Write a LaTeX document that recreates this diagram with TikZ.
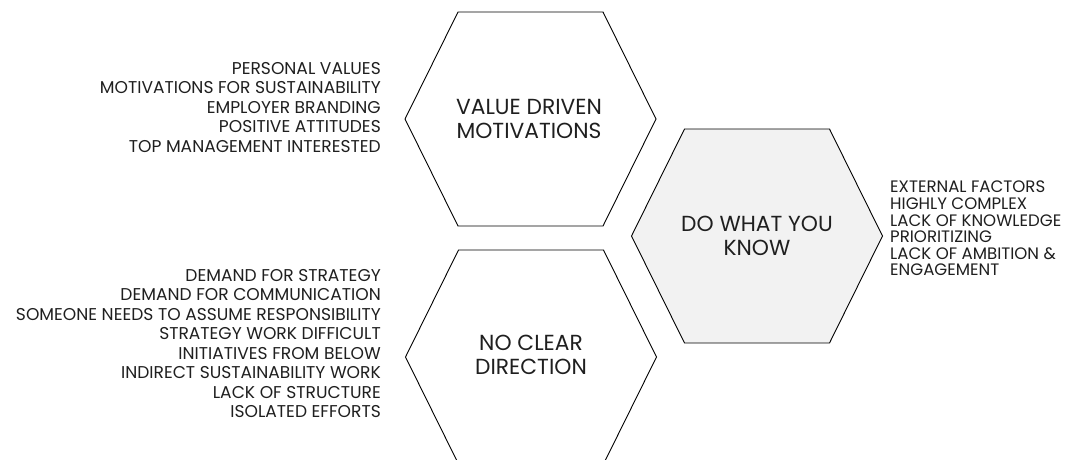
\documentclass[tikz,border=0pt]{standalone}
\usepackage{fontspec}
\setmainfont{Poppins}
\begin{document}
\begin{tikzpicture}[x=1pt,y=-1pt,
  hexline/.style={draw=black, line width=0.9pt, line join=miter},
  hexlabel/.style={align=center, inner sep=0pt, text=black!88,
    font={\fontsize{21.8}{24}\selectfont}},
  leftlist/.style={align=right, inner sep=0pt, anchor=north east, text=black!88,
    font={\fontsize{17.1}{19.5}\selectfont}},
  rightlist/.style={align=left, inner sep=0pt, anchor=north west, text=black!88,
    font={\fontsize{16.6}{16.6}\selectfont}}]
\useasboundingbox (0,0) rectangle (1085,459);
\clip (0,0) rectangle (1085,459);

% three hexagons (pointy left and right)
\draw[hexline, shift={(530.5,119)}]
  (-125.5,0) -- (-72.5,-107) -- (72.5,-107) -- (125.5,0) -- (72.5,107) -- (-72.5,107) -- cycle;
\draw[hexline, fill=black!5, shift={(757,236)}]
  (-125.5,0) -- (-72.5,-107) -- (72.5,-107) -- (125.5,0) -- (72.5,107) -- (-72.5,107) -- cycle;
\draw[hexline, shift={(531,357)}]
  (-125.5,0) -- (-72.5,-107) -- (72.5,-107) -- (125.5,0) -- (72.5,107) -- (-72.5,107) -- cycle;

% hexagon titles
\node[hexlabel] (value) at (529,119) {VALUE DRIVEN\\MOTIVATIONS};
\node[hexlabel] (know) at (757,236) {DO WHAT YOU\\KNOW};
\node[hexlabel] (direction) at (531,355) {NO CLEAR\\DIRECTION};

% lists of themes
\node[leftlist] (valuelist) at (381,62) {PERSONAL VALUES\\MOTIVATIONS FOR SUSTAINABILITY\\EMPLOYER BRANDING\\POSITIVE ATTITUDES\\TOP MANAGEMENT INTERESTED};
\node[leftlist] (directionlist) at (381,269) {DEMAND FOR STRATEGY\\DEMAND FOR COMMUNICATION\\SOMEONE NEEDS TO ASSUME RESPONSIBILITY\\STRATEGY WORK DIFFICULT\\INITIATIVES FROM BELOW\\INDIRECT SUSTAINABILITY WORK\\LACK OF STRUCTURE\\ISOLATED EFFORTS};
\node[rightlist] (knowlist) at (890,181) {EXTERNAL FACTORS\\HIGHLY COMPLEX\\LACK OF KNOWLEDGE\\PRIORITIZING\\LACK OF AMBITION \&\\ENGAGEMENT};
\end{tikzpicture}
\end{document}
